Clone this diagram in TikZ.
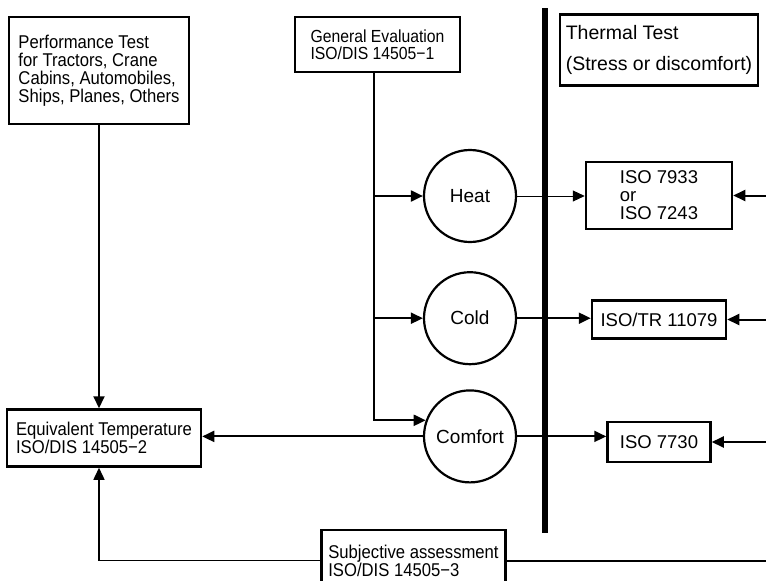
\documentclass[tikz,border=0pt]{standalone}
\usepackage{fontspec}
\setmainfont{Liberation Sans}[FakeStretch=0.9]
\newfontfamily\plainsans{Liberation Sans}
\usetikzlibrary{arrows.meta,positioning}

\begin{document}
\begin{tikzpicture}[x=1pt,y=1pt,
  box/.style={draw,line width=2.5pt,align=left,inner xsep=5pt,inner ysep=3pt,font=\fontsize{18.5}{18}\selectfont},
  stdbox/.style={box,font=\plainsans\fontsize{18.5}{18}\selectfont},
  stage/.style={circle,draw,line width=2.2pt,minimum size=92pt,inner sep=0pt,font=\plainsans\fontsize{19}{20}\selectfont},
  link/.style={line width=2pt,-{Triangle[length=12pt,width=11pt]}}]
  \useasboundingbox (0,0) rectangle (766,-581);
  \coordinate (edge) at (766,0);
  \node[box,minimum width=180pt,minimum height=107pt] (perf) at (99,-70.5) {Performance Test\\for Tractors, Crane\\Cabins, Automobiles,\\Ships, Planes, Others};
  \node[box,minimum width=194pt,minimum height=57pt,below=283pt of perf,xshift=5pt] (equiv) {Equivalent Temperature\\ISO/DIS 14505−2};
  \node[box,minimum width=184pt,minimum height=61pt,below right=61pt and 118pt of equiv] (subj) {Subjective assessment\\ISO/DIS 14505−3};
  \node[box,minimum width=165pt,minimum height=55pt,font=\fontsize{17.5}{17}\selectfont] (gen) at (377.5,-44.5) {General Evaluation\\ISO/DIS 14505−1};
  \node[stage] (heat) at (470,-196) {Heat};
  \node[stage,below=28pt of heat] (cold) {Cold};
  \node[stage,below=24pt of cold] (comfort) {Comfort};
  \node[stdbox,minimum width=146pt,minimum height=67pt] (iso79) at (659,-195.5) {ISO 7933\\or\\ISO 7243};
  \node[stdbox,minimum width=134pt,minimum height=38pt,below=69pt of iso79] (iso11) {ISO/TR 11079};
  \node[stdbox,minimum width=103pt,minimum height=40pt,below=81pt of iso11] (iso77) {ISO 7730};
  \node[stdbox,minimum width=198pt,minimum height=71pt,above=74pt of iso79,font=\plainsans\fontsize{19.5}{31}\selectfont] (therm) {Thermal Test\\(Stress or discomfort)};
  % dividing bar
  \coordinate (bartop) at (545,-8);
  \coordinate (barbot) at (545,-533);
  \draw[line width=6pt] (bartop) -- (barbot);
  % connectors
  \coordinate (trunk) at ([xshift=-3.5pt]gen.south);
  \draw[link] (perf.south) -- (perf.south |- equiv.north);
  \draw[link] (trunk) |- (comfort.160);
  \draw[link] (trunk |- heat.west) -- (heat.west);
  \draw[link] (trunk |- cold.west) -- (cold.west);
  \draw[link] (comfort.west) -- (comfort.west -| equiv.east);
  \draw[link,line width=1pt] (heat.east) -- (heat.east -| iso79.west);
  \draw[link] (cold.east) -- (cold.east -| iso11.west);
  \draw[link] (comfort.east) -- (comfort.east -| iso77.west);
  \draw[link] (iso79.east -| edge) -- (iso79.east);
  \draw[link] (iso11.east -| edge) -- (iso11.east);
  \draw[link] (iso77.east -| edge) -- (iso77.east);
  \draw[link,line width=1.5pt] (subj.west) -| (perf.south |- equiv.south);
  \draw[line width=2pt] (subj.east) -- (subj.east -| edge);
\end{tikzpicture}
\end{document}
